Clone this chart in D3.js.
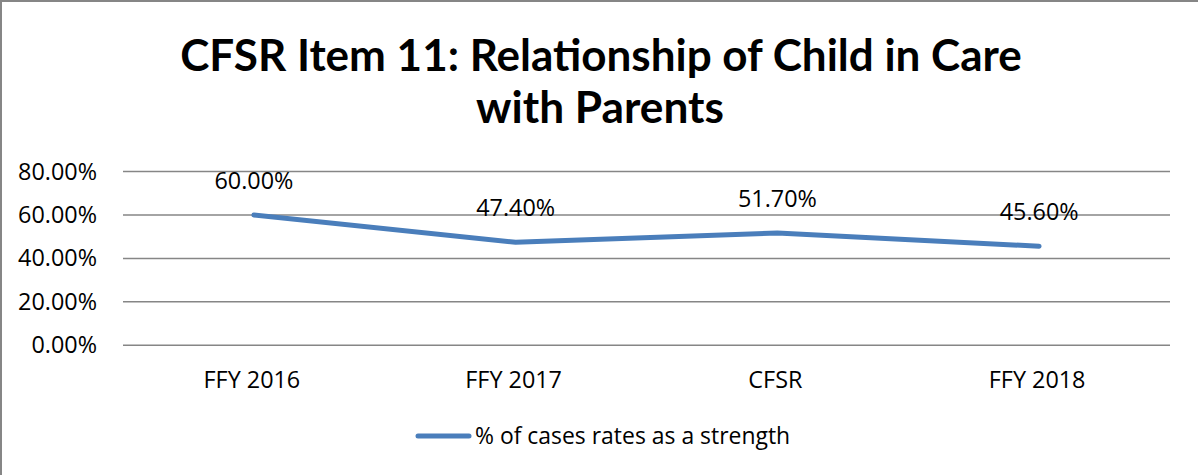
<!DOCTYPE html>
<html>
<head>
<meta charset="utf-8">
<script src="https://cdn.jsdelivr.net/npm/d3@7"></script>
<style>
html,body{margin:0;padding:0;background:#fff;}
svg{display:block;}
text{font-family:"Open Sans",sans-serif;fill:#000;}
text.title{font-family:"Lato","Open Sans",sans-serif;}
</style>
</head>
<body>
<script>
const titleLines = ["CFSR Item 11: Relationship of Child in Care", "with Parents"];
const categories = ["FFY 2016", "FFY 2017", "CFSR", "FFY 2018"];
const seriesName = "% of cases rates as a strength";
const values = [60.0, 47.4, 51.7, 45.6];
const yTicks = [0, 20, 40, 60, 80];

const W = 1198, H = 475;
const svg = d3.select("body").append("svg").attr("width", W).attr("height", H);

svg.append("rect").attr("x", 1).attr("y", 1).attr("width", W + 10).attr("height", H + 10)
  .attr("fill", "#fff").attr("stroke", "#868686").attr("stroke-width", 2);

const plot = {left: 123, right: 1170, top: 171.5, bottom: 345.3};
const x = d3.scaleBand().domain(categories).range([plot.left, plot.right]);
const y = d3.scaleLinear().domain([0, 80]).range([plot.bottom, plot.top]);

function fit(sel, target) {
  const w = sel.node().getComputedTextLength();
  const fs = parseFloat(sel.attr("font-size"));
  sel.attr("font-size", fs * target / w);
}

// title
const t1 = svg.append("text").attr("class", "title").attr("x", 601).attr("y", 71).attr("text-anchor", "middle")
  .attr("font-weight", "bold").attr("font-size", 40).text(titleLines[0]);
fit(t1, 842);
const t2 = svg.append("text").attr("class", "title").attr("x", 600).attr("y", 123).attr("text-anchor", "middle")
  .attr("font-weight", "bold").attr("font-size", 40).text(titleLines[1]);
fit(t2, 248);

// gridlines
const fmt = d => d3.format(".2f")(d) + "%";
svg.append("g").selectAll("line").data(yTicks).join("line")
  .attr("x1", plot.left).attr("x2", plot.right)
  .attr("y1", d => y(d)).attr("y2", d => y(d))
  .attr("stroke", "#868686").attr("stroke-width", 1.5);

// y axis labels
const yl = svg.append("g").selectAll("text").data(yTicks).join("text")
  .attr("x", 97).attr("y", d => y(d) + 8).attr("text-anchor", "end")
  .attr("font-size", 20).text(fmt);
const probe = yl.filter(d => d === 80);
const fsTick = 20 * 79 / probe.node().getComputedTextLength();
yl.attr("font-size", fsTick);

// x labels
svg.append("g").selectAll("text").data(categories).join("text")
  .attr("x", d => x(d) + x.bandwidth() / 2 - 2).attr("y", 388).attr("text-anchor", "middle")
  .attr("font-size", fsTick).text(d => d);

// line
const pts = categories.map((c, i) => [x(c) + x.bandwidth() / 2, y(values[i])]);
svg.append("path").datum(pts)
  .attr("d", d3.line())
  .attr("fill", "none").attr("stroke", "#4A7EBB").attr("stroke-width", 5)
  .attr("stroke-linecap", "round").attr("stroke-linejoin", "round");

// data labels
svg.append("g").selectAll("text").data(pts).join("text")
  .attr("x", d => d[0]).attr("y", d => d[1] - 26).attr("text-anchor", "middle")
  .attr("font-size", fsTick).text((d, i) => fmt(values[i]));

// legend
svg.append("line").attr("x1", 418).attr("x2", 469).attr("y1", 436).attr("y2", 436)
  .attr("stroke", "#4A7EBB").attr("stroke-width", 5).attr("stroke-linecap", "round");
const lt = svg.append("text").attr("x", 475).attr("y", 444).attr("font-size", fsTick).text(seriesName);
fit(lt, 315);
</script>
</body>
</html>
